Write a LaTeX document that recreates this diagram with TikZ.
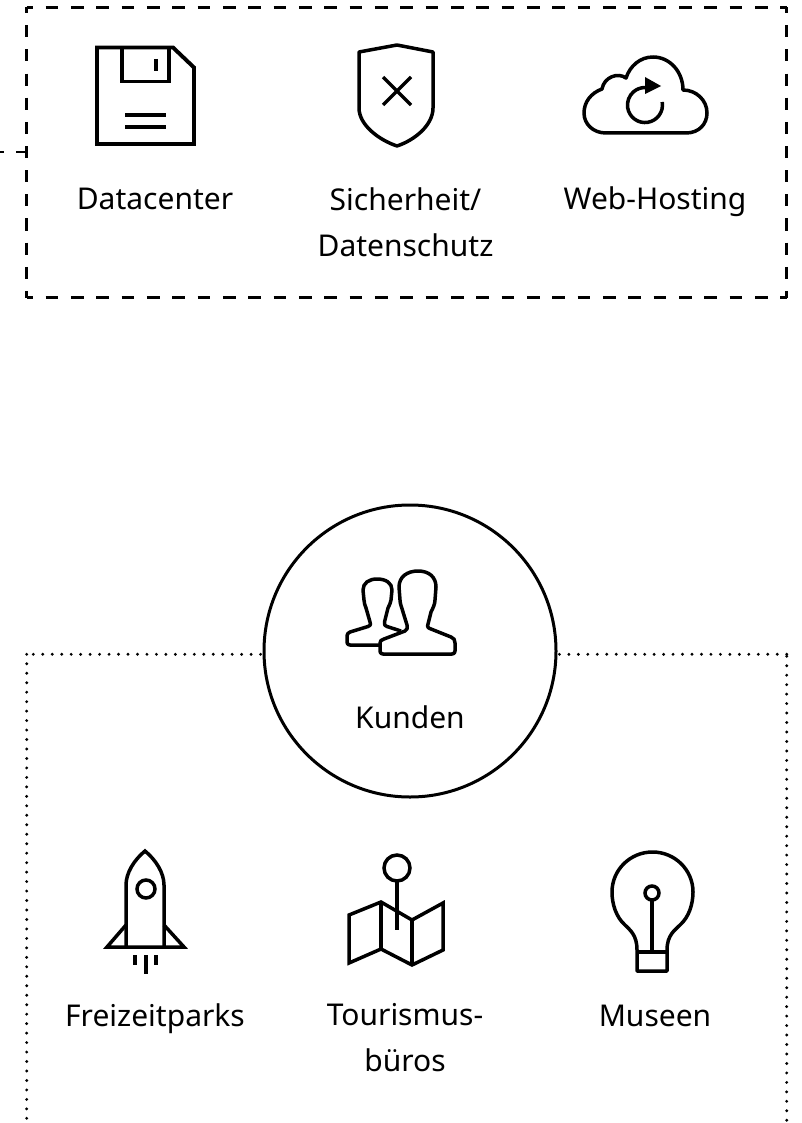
\documentclass[tikz,border=0pt]{standalone}
\usepackage{fontspec}
\setmainfont{Noto Sans}
\tikzset{
  x=1pt,y=-1pt,
  icon/.style={draw=black,line width=3.9pt,line join=miter},
  thinicon/.style={draw=black,line width=3.5pt},
  lbl/.style={anchor=base,inner sep=0pt,font=\fontsize{30}{46}\selectfont,align=center,text=black},
  dashframe/.style={minimum width=760pt,minimum height=290pt,inner sep=0pt},
  dashh/.style={draw=black,line width=3pt,dash pattern=on 12.67pt off 12.67pt,dash phase=6.33pt},
  dashv/.style={draw=black,line width=3pt,dash pattern=on 12.08pt off 12.08pt,dash phase=6.04pt},
  stub/.style={draw=black,line width=2pt,dash pattern=on 11pt off 12pt},
  dots/.style={draw=black,line width=3.2pt,line cap=round,dash pattern=on 0pt off 9.47pt},
  hub/.style={draw=black,line width=3pt,circle,minimum size=292pt,inner sep=0pt}
}
\begin{document}
\begin{tikzpicture}
\useasboundingbox (0,0) rectangle (801,1123);
\fill[white] (0,0) rectangle (801,1123);
% top group
\node[dashframe] (topbox) at (406.7,152.3) {};
\draw[dashh,line cap=butt] (topbox.north west) -- (topbox.north east);
\draw[dashh] (topbox.south west) -- (topbox.south east);
\draw[dashv] (topbox.north west) -- (topbox.south west);
\draw[dashv] (topbox.north east) -- (topbox.south east);
\coordinate (stubend) at (0,152.3);
\draw[stub] (topbox.west) -- (stubend);
% floppy
\draw[icon] (97,47.5) -- (173,47.5) -- (194,67.5) -- (194,144) -- (97,144) -- cycle;
\draw[icon] (122,47.5) -- (122,81.5) -- (169,81.5) -- (169,47.5);
\draw[icon] (156,59) -- (156,71);
\draw[icon] (125,115) -- (166,115) (125,127) -- (166,127);
% shield
\draw[thinicon,line join=round] (397,45) -- (433,52) -- (433,108) .. controls (433,125) and (415,140) .. (397,146) .. controls (379,140) and (359,125) .. (359,108) -- (359,52) -- cycle;
\draw[thinicon] (383,77) -- (411,105) (411,77) -- (383,105);
% cloud
\draw[thinicon,line join=round] (606,133) -- (686,133) .. controls (699,133) and (707,124) .. (707,113) .. controls (707,100) and (696,90) .. (683,90) .. controls (683,72) and (670,57) .. (653,57) .. controls (640,57) and (630,66) .. (626,78) .. controls (618,72) and (604,77) .. (602,89) .. controls (591,93) and (584,102) .. (584,113) .. controls (584,124) and (593,133) .. (606,133) -- cycle;
\draw[thinicon] (662.2,102) arc[start angle=10,end angle=-270,radius=17.5pt];
\fill[black] (645,77) -- (661,86) -- (645,94) -- cycle;
\node[lbl] (datacenter) at (155,210) {Datacenter};
\node[lbl] (sicher) at (405.5,256) {Sicherheit/\\Datenschutz};
\node[lbl] (webhost) at (655,210) {Web-Hosting};
% bottom group
\node[hub] (kundenkreis) at (410,651) {};
\coordinate (dl) at (26.7,1123);
\coordinate (dr) at (786.7,1123);
\coordinate (tl) at (26.7,654.3);
\coordinate (tr) at (786.7,654.3);
\draw[dots] (tl) -- (dl);
\draw[dots,dash phase=2.87pt] (tl) -- (kundenkreis.west |- tl);
\draw[dots,dash phase=7.54pt] (tr) -- (dr);
\draw[dots] (tr) -- (kundenkreis.east |- tr);
% people
\draw[thinicon,line join=round] (380,645) -- (350,645) .. controls (348,645) and (347,644) .. (347,642) -- (347,636) .. controls (347,634) and (348,633) .. (350,632) -- (368,626.5) .. controls (370,626) and (371,625) .. (370,622) -- (366,608) .. controls (365,605) and (364,603) .. (364,600) -- (363,590) .. controls (363,583) and (369,579) .. (377,579) .. controls (386,579) and (392,583) .. (392,590) -- (391,600) .. controls (391,603) and (389,605) .. (388,608) -- (384.5,622) .. controls (384,625) and (385,626) .. (387,626.5) -- (401,631);
\draw[thinicon,line join=round] (380,651) -- (380,643) .. controls (380,641) and (381,640) .. (384,639) -- (405,631) .. controls (407,630) and (408,628) .. (407,625) -- (403,612) .. controls (402,608) and (400,604) .. (400,600) -- (399,587) .. controls (399,577) and (407,571) .. (418,571) .. controls (429,571) and (436,577) .. (436,587) -- (435,600) .. controls (435,604) and (433,608) .. (431,612) -- (428,624) .. controls (427,627) and (428,628) .. (431,629) -- (451,637) .. controls (454,638) and (455,640) .. (455,643) -- (455,651) .. controls (455,653) and (454,654) .. (452,654) -- (383,654) .. controls (381,654) and (380,653) .. (380,651) -- cycle;
\node[lbl] (kunden) at (410,728) {Kunden};
% rocket
\draw[thinicon,line join=miter] (126,947) -- (126,885) .. controls (126,873) and (134,860) .. (145,851) .. controls (156,860) and (164,873) .. (164,885) -- (164,947);
\draw[thinicon,line join=miter] (126,925) -- (107,947) -- (184,947) -- (164,925);
\draw[thinicon] (146,889) circle[radius=9pt];
\draw[thinicon] (135,955) -- (135,965) (146,955) -- (146,974) (156,955) -- (156,965);
% map
\draw[thinicon] (397,868) circle[radius=13pt];
\draw[thinicon] (397,881) -- (397,930);
\draw[thinicon,line join=miter] (349,915) -- (381,902) -- (412,920) -- (443,903) -- (443,950) -- (412,965) -- (381,949) -- (349,963) -- cycle;
\draw[thinicon] (381,902) -- (381,949) (412,920) -- (412,965);
% bulb
\draw[thinicon,line join=round] (637,971) -- (637,950) .. controls (637,935) and (630,930) .. (625,925) .. controls (616,917) and (612,904) .. (612,892) .. controls (612,870) and (630,852) .. (652.5,852) .. controls (675,852) and (693,870) .. (693,892) .. controls (693,904) and (689,917) .. (680,925) .. controls (675,930) and (667,935) .. (667,950) -- (667,971) -- cycle;
\draw[thinicon] (637,952) -- (667,952);
\draw[thinicon] (652,893) circle[radius=7pt];
\draw[thinicon] (652,900) -- (652,952);
\node[lbl] (freizeit) at (155,1026) {Freizeitparks};
\node[lbl] (tourismus) at (405,1071) {Tourismus-\\büros};
\node[lbl] (museen) at (655,1026) {Museen};
\end{tikzpicture}
\end{document}
